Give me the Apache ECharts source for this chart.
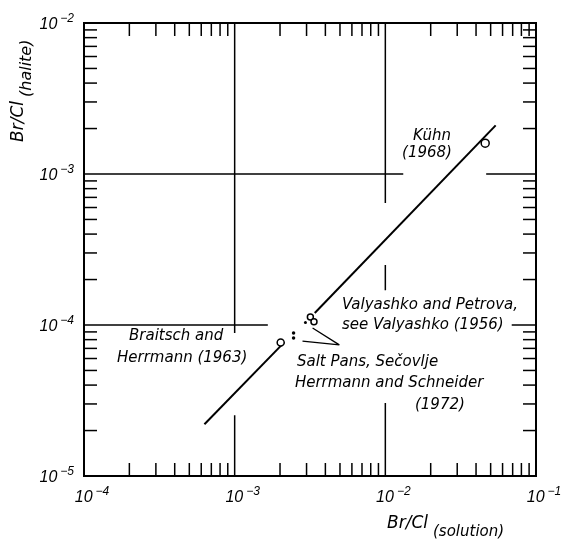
<!DOCTYPE html>
<html><head><meta charset="utf-8">
<script src="https://cdn.jsdelivr.net/npm/echarts@6/dist/echarts.min.js"></script>
<style>html,body{margin:0;padding:0;background:#fff;} #c{width:561px;height:539px;}</style>
</head><body><div id="c"></div>
<script>
// ---- data ----
const xRange = [1e-4, 1e-1];
const yRange = [1e-5, 1e-2];
const minorMultipliers = [2, 3, 4, 5, 6, 7, 8, 9];
const xDecades = [-4, -3, -2];
const yDecades = [-5, -4, -3];
const trendLineLower = [[6.3e-4, 2.2e-5], [2.14e-3, 7.7e-5]];
const trendLineUpper = [[3.4e-3, 1.2e-4], [5.4e-2, 2.1e-3]];
const kuhnPoints = [[4.6e-2, 1.6e-3]];
const braitschPoints = [[2.02e-3, 7.65e-5]];
const valyashkoPoints = [[3.18e-3, 1.13e-4], [3.36e-3, 1.05e-4]];
const valyashkoDots = [[2.95e-3, 1.04e-4]];
const saltPansPoints = [[2.46e-3, 8.85e-5], [2.46e-3, 8.2e-5]];
const saltPansPointer = [[3.29e-3, 9.55e-5], [4.95e-3, 7.38e-5], [2.82e-3, 7.83e-5]];
const gridSegments = [
  [[1e-4, 1e-3], [1.315e-2, 1e-3]],
  [[4.67e-2, 1e-3], [1e-1, 1e-3]],
  [[1e-4, 1e-4], [1.66e-3, 1e-4]],
  [[6.9e-2, 1e-4], [1e-1, 1e-4]],
  [[1e-3, 1e-2], [1e-3, 8.85e-5]],
  [[1e-3, 2.53e-5], [1e-3, 1e-5]],
  [[1e-2, 1e-2], [1e-2, 6.43e-4]],
  [[1e-2, 2.5e-4], [1e-2, 1.7e-4]],
  [[1e-2, 3.04e-5], [1e-2, 1e-5]]
];
const annotationTexts = ['Kühn', '(1968)', 'Braitsch and', 'Herrmann (1963)',
  'Valyashko and Petrova,', 'see Valyashko (1956)', 'Salt Pans, Sečovlje',
  'Herrmann and Schneider', '(1972)'];
const annotationAnchors = [[2.04e-2, 1.785e-3], [1.89e-2, 1.367e-3], [1.99e-4, 8.39e-5],
  [1.656e-4, 6.05e-5], [5.16e-3, 1.346e-4], [5.16e-3, 1e-4], [2.59e-3, 5.65e-5],
  [2.51e-3, 4.13e-5], [1.573e-2, 2.95e-5]];
const annotationAlign = ['center', 'center', 'left', 'left', 'left', 'left', 'left', 'left', 'left'];

// ---- helpers ----
const xMinor = [], yMinor = [];
xDecades.forEach(d => minorMultipliers.forEach(k => xMinor.push(k * Math.pow(10, d))));
yDecades.forEach(d => minorMultipliers.forEach(k => yMinor.push(k * Math.pow(10, d))));
const TICK = 13;
function seg(x1, y1, x2, y2) {
  return {type: 'line', shape: {x1, y1, x2, y2}, style: {stroke: '#000', lineWidth: 1.5}};
}
function tickSeries(values, orient) {
  return {
    type: 'custom', silent: true, animation: false,
    data: values.map(v => orient === 'x' ? [v, yRange[0]] : [xRange[0], v]),
    renderItem(params, api) {
      if (orient === 'x') {
        const v = api.value(0);
        const b = api.coord([v, yRange[0]]), t = api.coord([v, yRange[1]]);
        return {type: 'group', children: [seg(b[0], b[1], b[0], b[1] - TICK), seg(t[0], t[1], t[0], t[1] + TICK)]};
      } else {
        const v = api.value(1);
        const l = api.coord([xRange[0], v]), r = api.coord([xRange[1], v]);
        return {type: 'group', children: [seg(l[0], l[1], l[0] + TICK, l[1]), seg(r[0], r[1], r[0] - TICK, r[1])]};
      }
    }
  };
}
function lineSeries(data, width) {
  return {type: 'line', data, symbol: 'none', silent: true, animation: false,
    lineStyle: {color: '#000', width: width}};
}
const labFont = 'Liberation Sans';
const richBase = {
  sp: {width: 16, fontSize: 12},
  b: {fontFamily: labFont, fontStyle: 'italic', fontSize: 16, lineHeight: 20, verticalAlign: 'bottom', color: '#000'},
  s: {fontFamily: labFont, fontStyle: 'italic', fontSize: 12, lineHeight: 12, verticalAlign: 'top', color: '#000', padding: [0, 0, 0, 3]}
};
function expOf(v) { return Math.round(Math.log10(v)); }

const series = [];
gridSegments.forEach(s => series.push(lineSeries(s, 1.5)));
series.push(tickSeries(xMinor, 'x'));
series.push(tickSeries(yMinor, 'y'));
series.push(lineSeries(trendLineLower, 2));
series.push(lineSeries(trendLineUpper, 2));
series.push(lineSeries(saltPansPointer, 1.3));
function circles(data, size) {
  return {type: 'scatter', data, symbol: 'circle', symbolSize: size, silent: true, animation: false,
    itemStyle: {color: '#fff', borderColor: '#000', borderWidth: 1.5, opacity: 1}, z: 5};
}
function dots(data, size) {
  return {type: 'scatter', data, symbol: 'circle', symbolSize: size, silent: true, animation: false,
    itemStyle: {color: '#000', opacity: 1}, z: 5};
}
series.push(circles(kuhnPoints, 8));
series.push(circles(braitschPoints, 7));
series.push(circles(valyashkoPoints, 6));
series.push(dots(valyashkoDots, 3));
series.push(dots(saltPansPoints, 3.5));
series.push({
  type: 'custom', silent: true, animation: false, z: 6,
  data: annotationAnchors,
  renderItem(params, api) {
    const p = api.coord([api.value(0), api.value(1)]);
    return {type: 'text', x: p[0], y: p[1], style: {
      text: annotationTexts[params.dataIndex], fill: '#000',
      font: 'italic 15px "DejaVu Sans"',
      align: annotationAlign[params.dataIndex], verticalAlign: 'middle'}};
  }
});

const option = {
  backgroundColor: '#fff',
  animation: false,
  grid: {left: 84, right: 25, top: 23, bottom: 63, show: true, borderColor: '#000', borderWidth: 2,
    backgroundColor: 'transparent', outerBoundsMode: 'none', containLabel: false},
  xAxis: {
    type: 'log', logBase: 10, min: xRange[0], max: xRange[1],
    axisLine: {show: true, lineStyle: {color: '#000', width: 2}},
    axisTick: {show: false}, splitLine: {show: false}, minorTick: {show: false}, minorSplitLine: {show: false},
    axisLabel: {margin: 10, showMinLabel: true, showMaxLabel: true,
      formatter: v => '{sp|\u00a0}{b|10}{s|\u2212' + (-expOf(v)) + '}', rich: richBase}
  },
  yAxis: {
    type: 'log', logBase: 10, min: yRange[0], max: yRange[1],
    axisLine: {show: true, lineStyle: {color: '#000', width: 2}},
    axisTick: {show: false}, splitLine: {show: false}, minorTick: {show: false}, minorSplitLine: {show: false},
    axisLabel: {margin: 10, showMinLabel: true, showMaxLabel: true,
      formatter: v => '{b|10}{s|\u2212' + (-expOf(v)) + '}', rich: richBase}
  },
  graphic: [
    {type: 'text', x: 387, y: 524, silent: true, style: {text: 'Br/Cl', font: 'italic 17px "DejaVu Sans"', fill: '#000', align: 'left', verticalAlign: 'middle'}},
    {type: 'text', x: 433, y: 532.5, silent: true, style: {text: '(solution)', font: 'italic 15px "DejaVu Sans"', fill: '#000', align: 'left', verticalAlign: 'middle'}},
    {type: 'text', x: 19, y: 142, rotation: Math.PI / 2, silent: true, style: {text: 'Br/Cl', font: 'italic 17px "DejaVu Sans"', fill: '#000', align: 'left', verticalAlign: 'middle'}},
    {type: 'text', x: 27, y: 97, rotation: Math.PI / 2, silent: true, style: {text: '(halite)', font: 'italic 16px "DejaVu Sans"', fill: '#000', align: 'left', verticalAlign: 'middle'}}
  ],
  series
};
const chart = echarts.init(document.getElementById('c'), null, {renderer: 'canvas'});
chart.setOption(option);
</script>
</body></html>
